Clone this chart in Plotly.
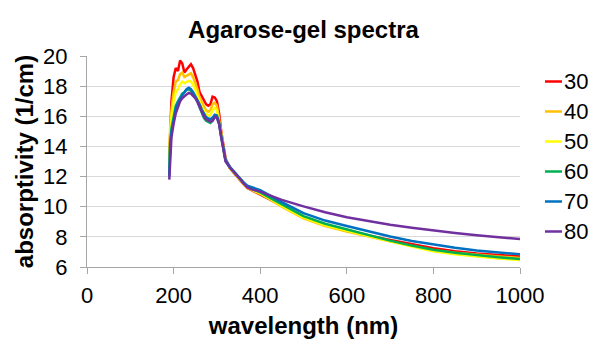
import plotly.graph_objects as go

wavelength = [190, 192, 195, 200, 205, 210, 215, 220, 225, 230, 235, 240, 245, 250, 255, 260,
              265, 270, 275, 280, 285, 290, 295, 300, 305, 310, 315, 320, 330, 340, 350, 360,
              370, 380, 400, 425, 450, 500, 550, 600, 650, 700, 750, 800, 850, 900, 950, 1000]

s30 = [13.2, 15.5, 17.0, 18.6, 19.2, 19.0, 19.7, 19.5, 18.9, 19.1, 19.3, 19.45, 19.2, 18.7, 18.3, 17.6,
       17.3, 17.1, 16.8, 16.7, 16.8, 17.3, 17.25, 17.0, 16.2, 15.0, 14.0, 13.2, 12.55, 12.2, 11.85, 11.55,
       11.25, 11.1, 10.85, 10.45, 10.05, 9.32, 8.83, 8.45, 8.1, 7.8, 7.5, 7.25, 7.05, 6.9, 6.8, 6.7]
s40 = [12.8, 15.2, 16.4, 17.6, 18.3, 18.4, 18.8, 18.9, 18.6, 18.7, 18.8, 18.85, 18.6, 18.2, 17.8, 17.2,
       16.9, 16.7, 16.4, 16.3, 16.4, 16.8, 16.9, 16.7, 15.9, 14.9, 13.9, 13.15, 12.55, 12.2, 11.85, 11.55,
       11.28, 11.12, 10.88, 10.45, 10.0, 9.22, 8.72, 8.35, 8.0, 7.7, 7.4, 7.12, 6.95, 6.8, 6.7, 6.6]
s50 = [12.5, 14.8, 15.9, 17.0, 17.6, 17.8, 18.1, 18.3, 18.2, 18.3, 18.35, 18.3, 18.1, 17.8, 17.4, 17.0,
       16.6, 16.4, 16.15, 16.05, 16.1, 16.4, 16.55, 16.4, 15.7, 14.8, 13.85, 13.1, 12.6, 12.25, 11.9, 11.6,
       11.3, 11.15, 10.9, 10.5, 10.05, 9.27, 8.77, 8.4, 8.02, 7.7, 7.35, 7.05, 6.85, 6.7, 6.57, 6.46]
s60 = [12.2, 14.3, 15.2, 16.1, 16.7, 17.0, 17.3, 17.5, 17.6, 17.75, 17.8, 17.7, 17.5, 17.25, 17.0, 16.6,
       16.2, 15.9, 15.7, 15.6, 15.55, 15.7, 16.0, 15.95, 15.5, 14.6, 13.75, 13.05, 12.6, 12.28, 11.92, 11.62,
       11.35, 11.2, 10.95, 10.55, 10.15, 9.37, 8.87, 8.5, 8.1, 7.75, 7.42, 7.15, 6.95, 6.78, 6.64, 6.53]
s70 = [12.0, 14.0, 14.9, 15.8, 16.5, 16.9, 17.2, 17.4, 17.6, 17.8, 17.9, 17.8, 17.6, 17.35, 17.1, 16.8,
       16.45, 16.15, 15.95, 15.85, 15.8, 15.9, 16.1, 16.05, 15.6, 14.7, 13.8, 13.1, 12.65, 12.3, 11.95, 11.65,
       11.4, 11.3, 11.1, 10.7, 10.3, 9.57, 9.08, 8.72, 8.35, 8.02, 7.72, 7.48, 7.28, 7.1, 6.96, 6.84]
s80 = [11.8, 13.5, 14.6, 15.5, 16.2, 16.6, 17.0, 17.2, 17.35, 17.45, 17.55, 17.5, 17.35, 17.2, 16.95, 16.6,
       16.25, 16.0, 15.8, 15.7, 15.65, 15.7, 15.95, 15.9, 15.5, 14.6, 13.7, 13.0, 12.6, 12.3, 11.95, 11.6,
       11.3, 11.15, 11.0, 10.72, 10.45, 10.02, 9.63, 9.3, 9.03, 8.8, 8.6, 8.42, 8.26, 8.11, 7.97, 7.85]

series_names = ["30", "40", "50", "60", "70", "80"]
series_values = [s30, s40, s50, s60, s70, s80]
series_colors = ["#FF0000", "#FFC000", "#FFFF00", "#00B050", "#0070C0", "#7030A0"]

x_ticks = [0, 200, 400, 600, 800, 1000]
y_ticks = [6, 8, 10, 12, 14, 16, 18, 20]

FONT = "Liberation Sans, Arial, sans-serif"

fig = go.Figure()
for name, vals, col in zip(series_names, series_values, series_colors):
    fig.add_trace(go.Scatter(x=wavelength, y=vals, mode="lines", name=name,
                             line=dict(color=col, width=2.5), showlegend=False))

# manual legend (short line + label), top to bottom
for i, (name, col) in enumerate(zip(series_names, series_colors)):
    ypx = 81.5 + 30 * i
    fig.add_shape(type="line", xref="paper", yref="paper",
                  x0=(545 - 87) / (520 - 87), x1=(562 - 87) / (520 - 87),
                  y0=(267 - ypx) / (267 - 56), y1=(267 - ypx) / (267 - 56),
                  line=dict(color=col, width=2.5))
    fig.add_annotation(text=name, xref="paper", yref="paper",
                       x=(561.5 - 87) / (520 - 87), y=(267 - ypx) / (267 - 56),
                       xanchor="left", yanchor="middle", showarrow=False,
                       font=dict(family=FONT, size=22, color="#000000"))

fig.update_layout(
    width=592, height=339,
    margin=dict(l=87, r=72, t=56, b=72, autoexpand=False),
    paper_bgcolor="white", plot_bgcolor="white",
    font=dict(family=FONT, color="#000000"),
    title=dict(text="<b>Agarose-gel spectra</b>", x=303.5 / 592, xanchor="center",
               y=1 - 30 / 339, yanchor="middle", font=dict(family=FONT, size=24, color="#000000")),
    showlegend=False,
)
fig.update_xaxes(range=[0, 1000], tickvals=x_ticks, showgrid=False, zeroline=False, automargin=False,
                 showline=True, linecolor="#A6A6A6", linewidth=1,
                 ticks="outside", ticklen=6, tickcolor="#A6A6A6", ticklabelstandoff=3,
                 tickfont=dict(family=FONT, size=22, color="#000000"),
                 title=dict(text="<b>wavelength (nm)</b>", standoff=10,
                            font=dict(family=FONT, size=24, color="#000000")))
fig.update_yaxes(range=[6, 20], tickvals=y_ticks, showgrid=True, gridcolor="#D9D9D9", gridwidth=1,
                 zeroline=False, showline=True, linecolor="#A6A6A6", linewidth=1, automargin=False,
                 ticks="outside", ticklen=6, tickcolor="#A6A6A6", ticklabelstandoff=8,
                 tickfont=dict(family=FONT, size=22, color="#000000"),
                 title=dict(text="<b>absorptivity (1/cm)</b>", standoff=2,
                            font=dict(family=FONT, size=24, color="#000000")))

fig.write_html("out.html")
